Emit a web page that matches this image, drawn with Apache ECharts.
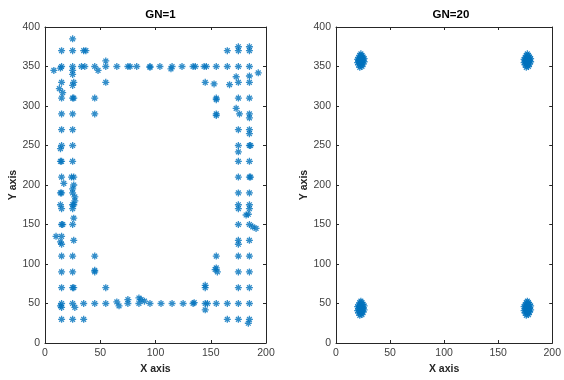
<!DOCTYPE html>
<html><head><meta charset="utf-8">
<script src="https://cdn.jsdelivr.net/npm/echarts@6/dist/echarts.min.js"></script>
<style>html,body{margin:0;padding:0;background:#fff}#c{width:564px;height:380px}</style>
</head><body><div id="c"></div><script>
const titles = ['GN=1', 'GN=20'];
const xTicksInterval = 50, xMin = 0, xMax = 200;
const yTicksInterval = 50, yMin = 0, yMax = 400;

const gn1Points = [
  [15,370],[15,350],[14,348],[15,330],[13,322],[16,317],[15,310],[15,290],[15,270],[15,250],[14,246],[15,230],[14,230],[15,210],[17,202],[15,190],[14,190],[14,175],[15,170],[16,150],[15,150],[10,135],[15,135],[14,128],[15,125],[15,110],[15,90],[15,70],[15,50],[14,47],[15,45],[15,30],
  [25,385],[25,370],[25,350],[25,345],[25,340],[26,330],[25,326],[25,310],[26,310],[25,290],[25,270],[25,250],[25,230],[24,210],[26,210],[26,200],[25,195],[25,190],[27,185],[27,180],[25,175],[25,170],[26,175],[26,158],[25,150],[26,130],[25,110],[25,90],[25,70],[26,70],[25,50],[27,45],[25,30],
  [35,370],[37,370],[33,350],[36,350],[35,50],[35,30],
  [45,350],[48,345],[45,310],[45,290],[45,110],[45,92],[45,90],[45,50],
  [55,357],[55,350],[55,330],[55,70],[55,50],
  [65,350],[75,350],[77,350],[83,350],[95,350],[95,349],[104,350],[114,347],[115,350],[124,350],[134,350],[136,350],[144,350],[146,350],[155,350],[165,350],[175,350],[185,350],[193,342],[8,345],
  [65,52],[67,47],[75,55],[75,50],[85,57],[87,55],[90,53],[85,50],[95,50],[105,50],[115,50],[125,50],[134,50],[135,51],[145,50],[145,42],[147,50],[155,50],[165,50],[175,50],[185,50],
  [145,330],[153,328],[155,310],[155,308],[155,290],[155,288],[155,110],[154,93],[156,90],[155,95],[145,73],[145,70],
  [165,370],[167,327],[165,30],
  [175,375],[175,370],[175,330],[173,337],[173,297],[175,310],[176,290],[175,270],[175,250],[175,242],[175,230],[175,210],[175,190],[175,175],[175,170],[175,150],[175,130],[175,125],[175,110],[175,90],[175,70],[175,30],
  [185,375],[185,370],[185,338],[185,330],[185,310],[185,290],[185,285],[185,270],[185,265],[185,250],[186,250],[185,230],[185,210],[186,210],[185,190],[185,175],[185,170],[184,163],[182,162],[185,150],[188,147],[191,145],[185,130],[185,110],[185,90],[185,70],[185,30],[184,25]
];

const gn20TopLeft = [
  [22,349],[24,350],[21,352],[23,352],[25,353],[20,355],[22,355],[24,355],[26,356],[21,357],[23,357],[25,358],[20,359],[22,359],[24,360],[26,360],[21,361],[23,362],[25,362],[22,364],[24,364],[23,366],[22,357],[24,358]
];
const gn20TopRight = [
  [176,349],[178,350],[175,352],[177,352],[179,353],[174,355],[176,354],[178,355],[180,356],[175,357],[177,357],[179,358],[174,359],[176,360],[178,359],[180,360],[175,361],[177,362],[179,362],[176,364],[178,364],[177,366],[176,357],[178,357]
];
const gn20BottomLeft = [
  [22,35],[24,36],[21,38],[23,38],[25,39],[20,41],[22,41],[24,42],[26,42],[21,43],[23,44],[25,44],[20,46],[22,46],[24,46],[26,47],[21,48],[23,49],[25,49],[22,51],[24,51],[23,53],[22,44],[24,40]
];
const gn20BottomRight = [
  [176,35],[178,36],[175,38],[177,38],[179,39],[174,41],[176,41],[178,42],[180,42],[175,43],[177,44],[179,44],[174,46],[176,46],[178,46],[180,47],[175,48],[177,49],[179,49],[176,51],[178,51],[177,53],[176,44],[178,40]
];

const blue = '#0072BD';
const axisColor = '#262626';
const asterisk = 'path://M5,0L5,10M0,5L10,5M1.6,1.6L8.4,8.4M1.6,8.4L8.4,1.6';

const grids = [
  {left:45, top:27, width:221, height:316},
  {left:336, top:27, width:220, height:316}
];

function xAx(i, pos) {
  const main = pos === 'bottom';
  return {
    type:'value', gridIndex:i, position:pos, min:xMin, max:xMax, interval:xTicksInterval,
    axisLine:{show:true, onZero:false, lineStyle:{color:axisColor, width:1}},
    axisTick:{show:true, inside:true, length:3, lineStyle:{color:axisColor}},
    axisLabel:{show:main, color:'#404040', fontSize:10.5, margin:5, fontFamily:'Liberation Sans'},
    splitLine:{show:false},
    name: main ? 'X axis' : '', nameLocation:'middle', nameGap:21,
    nameTextStyle:{color:axisColor, fontWeight:'bold', fontSize:10.5, fontFamily:'Liberation Sans'}
  };
}
function yAx(i, pos) {
  const main = pos === 'left';
  return {
    type:'value', gridIndex:i, position:pos, min:yMin, max:yMax, interval:yTicksInterval,
    axisLine:{show:true, onZero:false, lineStyle:{color:axisColor, width:1}},
    axisTick:{show:true, inside:true, length:3, lineStyle:{color:axisColor}},
    axisLabel:{show:main, color:'#404040', fontSize:10.5, margin:5, fontFamily:'Liberation Sans'},
    splitLine:{show:false},
    name: main ? 'Y axis' : '', nameLocation:'middle', nameGap:23, nameRotate:90,
    nameTextStyle:{color:axisColor, fontWeight:'bold', fontSize:10.5, fontFamily:'Liberation Sans'}
  };
}

function sc(i, data) {
  return {
    type:'scatter', xAxisIndex:i*2, yAxisIndex:i*2, data:data,
    symbol:asterisk, symbolSize:7, silent:true, animation:false,
    itemStyle:{color:'transparent', borderColor:blue, borderWidth:1.3}
  };
}

const chart = echarts.init(document.getElementById('c'), null, {renderer:'canvas'});
chart.setOption({
  animation:false,
  backgroundColor:'#fff',
  title: titles.map((t, i) => ({
    text:t, left: grids[i].left + grids[i].width/2, top:4, textAlign:'center',
    textStyle:{fontSize:11.5, fontWeight:'bold', color:'#000', fontFamily:'Liberation Sans'}
  })),
  grid: grids,
  xAxis: [xAx(0,'bottom'), xAx(0,'top'), xAx(1,'bottom'), xAx(1,'top')],
  yAxis: [yAx(0,'left'), yAx(0,'right'), yAx(1,'left'), yAx(1,'right')],
  series: [
    sc(0, gn1Points),
    sc(1, gn20TopLeft), sc(1, gn20TopRight), sc(1, gn20BottomLeft), sc(1, gn20BottomRight)
  ]
});
</script></body></html>
